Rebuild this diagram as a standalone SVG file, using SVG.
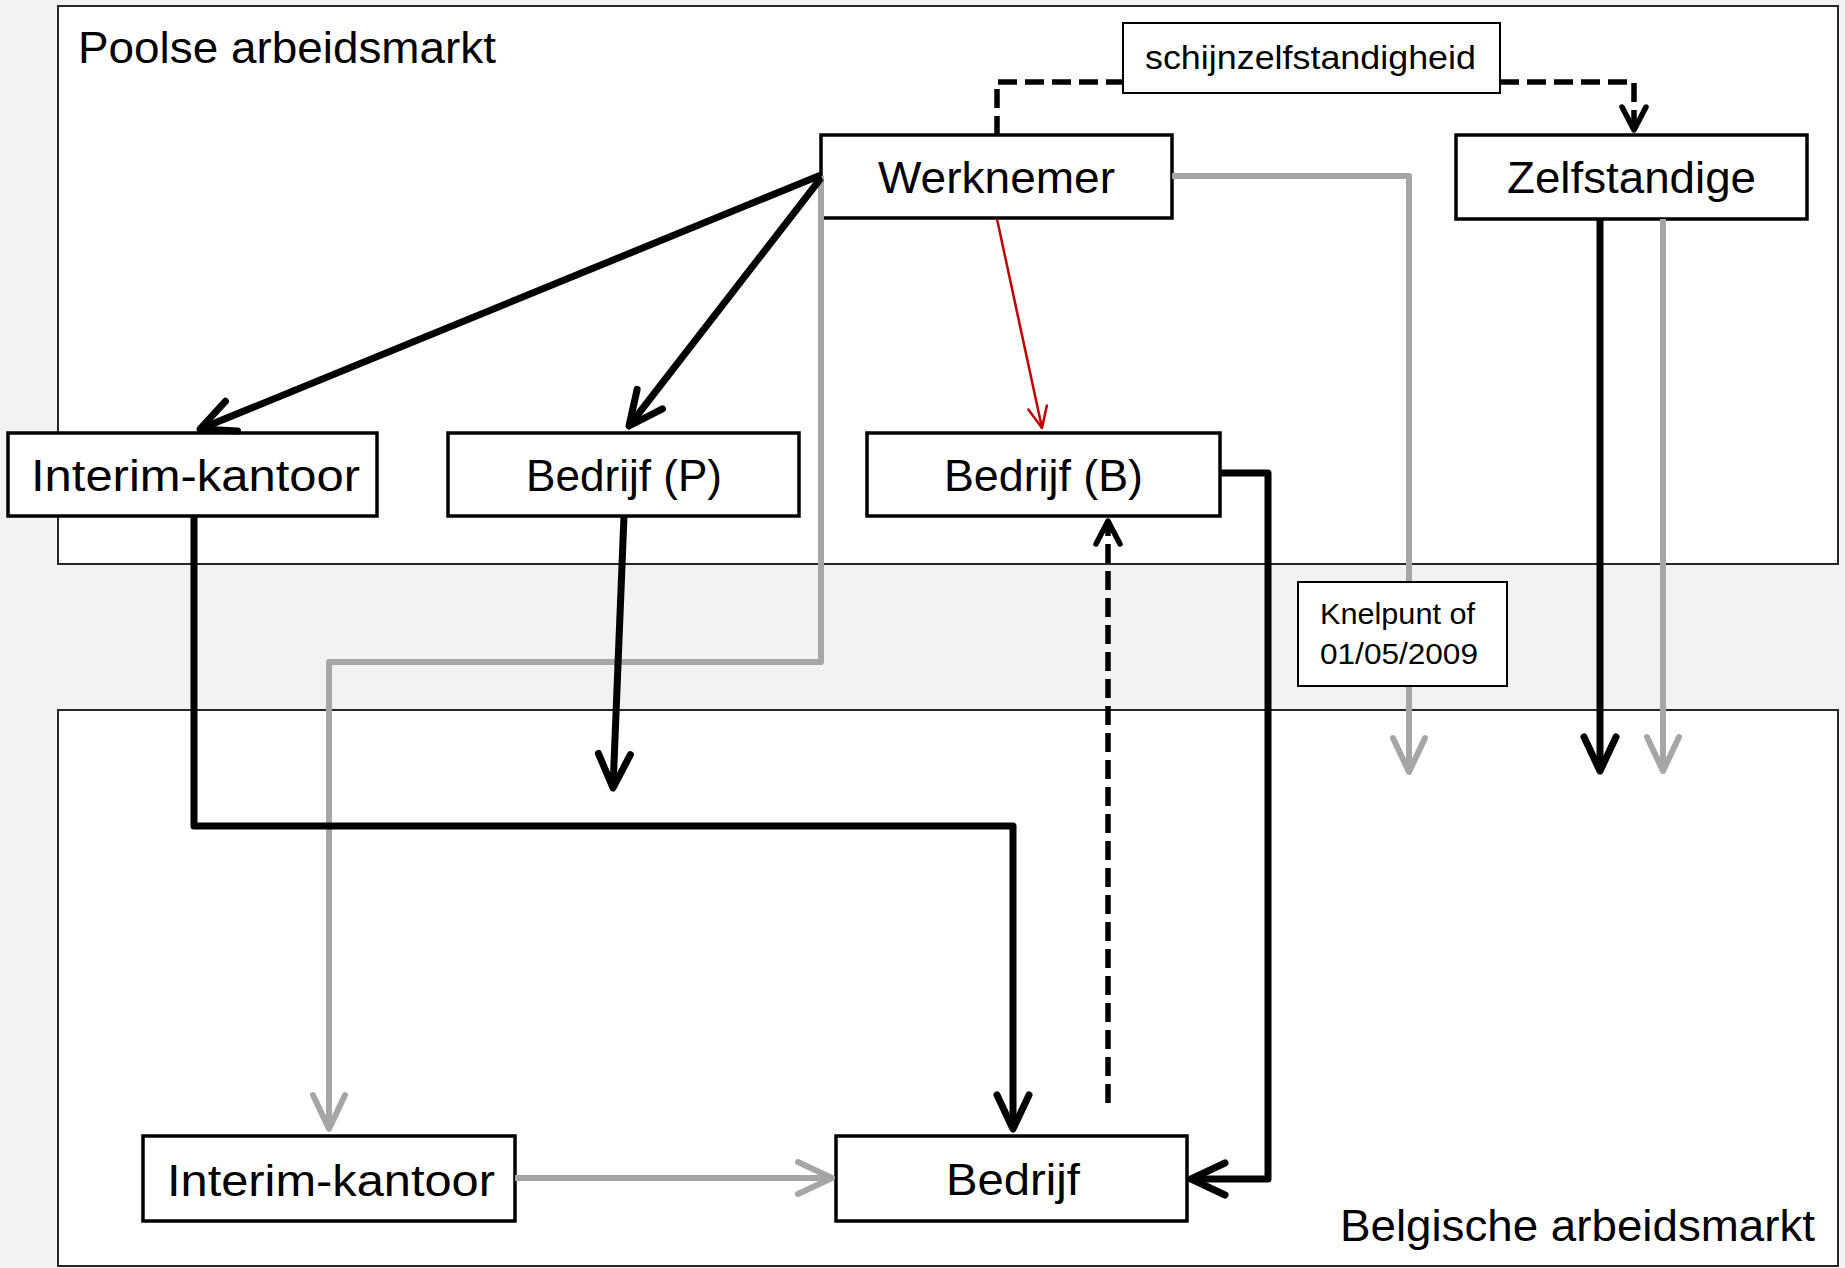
<svg xmlns="http://www.w3.org/2000/svg" width="1845" height="1268" viewBox="0 0 1845 1268">
<style>
.frame{fill:#fff;stroke:#262626;stroke-width:2}
.node rect{fill:#fff;stroke:#000;stroke-width:3.5}
.lbl rect{fill:#fff;stroke:#000;stroke-width:2}
text{font-family:"Liberation Sans",Arial,sans-serif;fill:#000}
.big{font-size:44px}
.small{font-size:34px}
.tiny{font-size:29px}
.cb{stroke:#000;stroke-width:7;fill:none;stroke-linejoin:round}
.cg{stroke:#a6a6a6;stroke-width:6;fill:none;stroke-linejoin:round}
.cr{stroke:#c00000;stroke-width:2.5;fill:none}
.cd{stroke:#000;stroke-width:5.5;fill:none;stroke-dasharray:19 8}
.mk{fill:none;stroke-linecap:round;stroke-linejoin:round;stroke-dasharray:none}
</style>
<defs>
<marker id="ab" markerUnits="userSpaceOnUse" markerWidth="60" markerHeight="60" viewBox="-45 -30 60 60" refX="0" refY="0" orient="auto"><path class="mk" d="M-34,-16 L0,0 L-34,16" stroke="#000" stroke-width="7"/></marker>
<marker id="ag" markerUnits="userSpaceOnUse" markerWidth="60" markerHeight="60" viewBox="-45 -30 60 60" refX="0" refY="0" orient="auto"><path class="mk" d="M-34,-16 L0,0 L-34,16" stroke="#a6a6a6" stroke-width="6"/></marker>
<marker id="ar" markerUnits="userSpaceOnUse" markerWidth="40" markerHeight="40" viewBox="-30 -20 40 40" refX="0" refY="0" orient="auto"><path class="mk" d="M-21,-9.5 L0,0 L-21,9.5" stroke="#c00000" stroke-width="2.5"/></marker>
<marker id="ad" markerUnits="userSpaceOnUse" markerWidth="50" markerHeight="50" viewBox="-35 -25 50 50" refX="0" refY="0" orient="auto"><path class="mk" d="M-23,-12 L0,0 L-23,12" stroke="#000" stroke-width="5.5"/></marker>
</defs>
<rect x="0" y="0" width="1845" height="1268" fill="#f2f2f2"/>
<g id="frame-poolse">
<rect class="frame" x="58" y="6" width="1780" height="558"/>
<text class="big" x="78" y="63" textLength="418" lengthAdjust="spacingAndGlyphs">Poolse arbeidsmarkt</text>
</g>
<g id="frame-belgische">
<rect class="frame" x="58" y="710" width="1780" height="556"/>
<text class="big" x="1340" y="1241" textLength="475" lengthAdjust="spacingAndGlyphs">Belgische arbeidsmarkt</text>
</g>
<g id="n-werknemer" class="node"><rect x="821" y="135" width="351" height="83"/><text class="big" x="878" y="193" textLength="237" lengthAdjust="spacingAndGlyphs">Werknemer</text></g>
<g id="n-zelfstandige" class="node"><rect x="1456" y="135" width="351" height="84"/><text class="big" x="1507" y="193" textLength="249" lengthAdjust="spacingAndGlyphs">Zelfstandige</text></g>
<g id="n-interim-p" class="node"><rect x="8" y="433" width="369" height="83"/><text class="big" x="31" y="491" textLength="329" lengthAdjust="spacingAndGlyphs">Interim-kantoor</text></g>
<g id="n-bedrijf-p" class="node"><rect x="448" y="433" width="351" height="83"/><text class="big" x="526" y="491" textLength="196" lengthAdjust="spacingAndGlyphs">Bedrijf (P)</text></g>
<g id="n-bedrijf-b" class="node"><rect x="867" y="433" width="353" height="83"/><text class="big" x="944" y="491" textLength="199" lengthAdjust="spacingAndGlyphs">Bedrijf (B)</text></g>
<g id="n-interim-b" class="node"><rect x="143" y="1136" width="372" height="85"/><text class="big" x="167" y="1196" textLength="328" lengthAdjust="spacingAndGlyphs">Interim-kantoor</text></g>
<g id="n-bedrijf" class="node"><rect x="836" y="1136" width="351" height="85"/><text class="big" x="946" y="1195" textLength="134" lengthAdjust="spacingAndGlyphs">Bedrijf</text></g>
<g id="connectors">
<path class="cg" d="M821,176 V662 H329 V1129" marker-end="url(#ag)"/>
<path class="cg" d="M1172,176 H1409 V772" marker-end="url(#ag)"/>
<path class="cg" d="M1663,219 V771" marker-end="url(#ag)"/>
<path class="cg" d="M515,1178 H832" marker-end="url(#ag)"/>
<path class="cb" d="M821,175 L200,429" marker-end="url(#ab)"/>
<path class="cb" d="M821,178 L629,426" marker-end="url(#ab)"/>
<path class="cr" d="M997,219 L1042,428" marker-end="url(#ar)"/>
<path class="cb" d="M1600,219 V771" marker-end="url(#ab)"/>
<path class="cb" d="M1220,473 H1268 V1179 H1191" marker-end="url(#ab)"/>
<path class="cb" d="M194,516 V826 H1013 V1129" marker-end="url(#ab)"/>
<path class="cb" d="M624,516 L613,788" marker-end="url(#ab)"/>
<path class="cd" d="M997,135 V82 H1123"/>
<path class="cd" d="M1500,82 H1634 V130" marker-end="url(#ad)"/>
<path class="cd" d="M1108,1103 V521" marker-end="url(#ad)"/>
</g>
<g id="n-schijn" class="lbl"><rect x="1123" y="23" width="377" height="70"/><text class="small" x="1145" y="69" textLength="331" lengthAdjust="spacingAndGlyphs">schijnzelfstandigheid</text></g>
<g id="n-knelpunt" class="lbl"><rect x="1298" y="582" width="209" height="104"/><text class="tiny" x="1320" y="624" textLength="155" lengthAdjust="spacingAndGlyphs">Knelpunt of</text><text class="tiny" x="1320" y="664" textLength="158" lengthAdjust="spacingAndGlyphs">01/05/2009</text></g>
</svg>
